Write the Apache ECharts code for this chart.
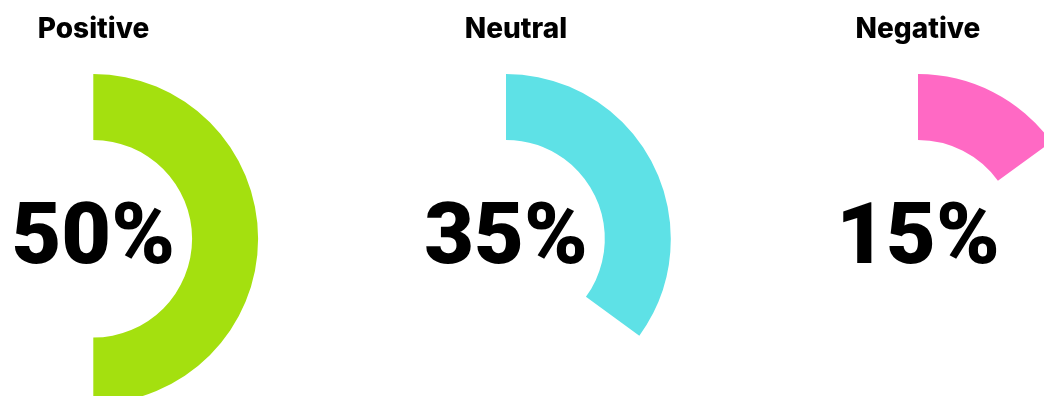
<!DOCTYPE html>
<html>
<head>
<meta charset="utf-8">
<script src="https://cdn.jsdelivr.net/npm/echarts@6/dist/echarts.min.js"></script>
<style>
html,body{margin:0;padding:0;background:#fff;}
#chart{width:1044px;height:396px;}
</style>
</head>
<body>
<div id="chart"></div>
<script>
const categories = ['Positive', 'Neutral', 'Negative'];
const values = [50, 35, 15];
const total = 100;
const colors = ['#A4E00F', '#5EE1E6', '#FF69C4'];
const centersX = [93.3, 506, 918];
const titleX = [93.5, 516, 918];
const centerY = 238.8;

const chart = echarts.init(document.getElementById('chart'), null, {renderer: 'canvas'});

const series = categories.map((name, i) => ({
  type: 'pie',
  name: name,
  silent: true,
  center: [centersX[i], centerY],
  radius: [98.8, 164.8],
  startAngle: 90,
  clockwise: true,
  avoidLabelOverlap: false,
  labelLine: {show: false},
  emphasis: {disabled: true},
  animation: false,
  data: [
    {
      value: values[i],
      name: name,
      itemStyle: {color: colors[i]},
      label: {
        show: true,
        position: 'center',
        formatter: '{c}%',
        fontFamily: 'Roboto',
        fontWeight: 900,
        fontSize: 86,
        color: '#000',
        offset: [0, 3]
      }
    },
    {
      value: total - values[i],
      name: 'rest',
      itemStyle: {color: 'rgba(0,0,0,0)'},
      label: {show: false}
    }
  ]
}));

const graphic = categories.map((name, i) => ({
  type: 'text',
  x: titleX[i],
  y: 30,
  style: {
    text: name,
    fontFamily: 'Inter',
    fontWeight: 800,
    fontSize: 28,
    fill: '#000',
    textAlign: 'center',
    textVerticalAlign: 'middle'
  }
}));

chart.setOption({
  backgroundColor: '#fff',
  animation: false,
  series: series,
  graphic: graphic
});
</script>
</body>
</html>
